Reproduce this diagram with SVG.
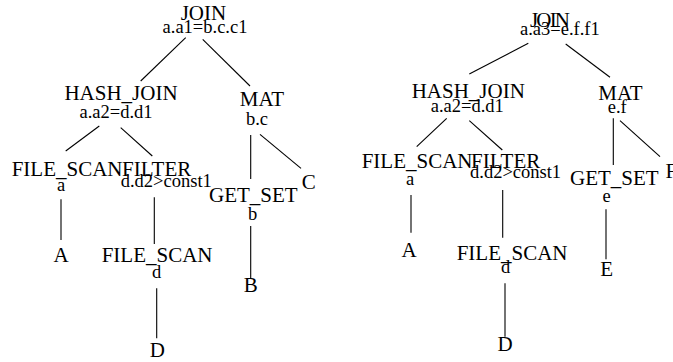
<svg xmlns="http://www.w3.org/2000/svg" width="673" height="362" viewBox="0 0 673 362">
<style>
text{font-family:"Liberation Serif","Times New Roman",serif;fill:#000}
.m{font-size:21px}
.s{font-size:18.5px}
.c{text-anchor:middle}
#edges line{stroke:#000;stroke-width:1.1}
</style>
<rect width="673" height="362" fill="#fff"/>
<g id="edges">
<line x1="185.7" y1="37.7" x2="140.7" y2="81"/>
<line x1="202.7" y1="39.3" x2="250" y2="86"/>
<line x1="99.3" y1="126" x2="65.7" y2="151"/>
<line x1="120.7" y1="127.7" x2="152.3" y2="156"/>
<line x1="250.7" y1="135" x2="250.7" y2="179"/>
<line x1="260" y1="134.3" x2="301" y2="168.3"/>
<line x1="61" y1="199.3" x2="61" y2="240"/>
<line x1="154.3" y1="197.3" x2="154.3" y2="244"/>
<line x1="156.7" y1="288.3" x2="156.7" y2="338.3"/>
<line x1="250.7" y1="226" x2="250.7" y2="278.3"/>
<line x1="528.3" y1="43.3" x2="469.3" y2="74"/>
<line x1="565.7" y1="44" x2="610" y2="77.3"/>
<line x1="446.7" y1="118.3" x2="416.7" y2="146.7"/>
<line x1="469.3" y1="120.7" x2="502.3" y2="150"/>
<line x1="613.3" y1="118.3" x2="613.3" y2="165"/>
<line x1="620" y1="120.7" x2="660" y2="156.7"/>
<line x1="411" y1="195" x2="411" y2="232.7"/>
<line x1="502.7" y1="190" x2="502.7" y2="237.7"/>
<line x1="505" y1="283.3" x2="505" y2="336.7"/>
<line x1="606" y1="209.3" x2="606" y2="259.3"/>
</g>
<g id="l-join"><text class="m c" x="203.4" y="20">JOIN</text><text class="s c" x="205" y="32.5">a.a1=b.c.c1</text></g>
<g id="l-hashjoin"><text class="m c" x="121" y="99.5">HASH_JOIN</text><text class="s c" x="116" y="118">a.a2=d.d1</text></g>
<g id="l-mat"><text class="m c" x="262" y="106">MAT</text><text class="s c" x="257" y="125">b.c</text></g>
<g id="l-filescan-a"><text class="m" x="11.7" y="176">FILE_SCAN</text><text class="s c" x="61" y="191">a</text></g>
<g id="l-filter"><text class="m" x="122" y="176">FILTER</text><text class="s" x="120.7" y="187">d.d2&gt;const1</text></g>
<g id="l-getset"><text class="m" x="209" y="201.5">GET_SET</text><text class="s c" x="252.5" y="220">b</text></g>
<g id="l-C"><text class="m" x="301.7" y="189">C</text></g>
<g id="l-A"><text class="m c" x="61" y="261.7">A</text></g>
<g id="l-filescan-d"><text class="m" x="101.7" y="261.7">FILE_SCAN</text><text class="s c" x="156.7" y="278.3">d</text></g>
<g id="l-D"><text class="m c" x="157.3" y="357.3">D</text></g>
<g id="l-B"><text class="m c" x="250.7" y="292.3">B</text></g>
<g id="r-join"><text class="m" x="530" y="27.3" textLength="40">JOIN</text><text class="s" x="520" y="35">a.a3=e.f.f1</text></g>
<g id="r-hashjoin"><text class="m" x="411.7" y="98.3">HASH_JOIN</text><text class="s" x="430.7" y="111.7">a.a2=d.d1</text></g>
<g id="r-mat"><text class="m" x="598.3" y="100">MAT</text><text class="s" x="607.7" y="112.7">e.f</text></g>
<g id="r-filescan-a"><text class="m" x="361.7" y="168.3">FILE_SCAN</text><text class="s c" x="410" y="185">a</text></g>
<g id="r-filter"><text class="m" x="471" y="168.3">FILTER</text><text class="s" x="470" y="177.5">d.d2&gt;const1</text></g>
<g id="r-getset"><text class="m" x="570" y="185">GET_SET</text><text class="s c" x="606.7" y="201.7">e</text></g>
<g id="r-F"><text class="m" x="665.5" y="178">F</text></g>
<g id="r-A"><text class="m c" x="409" y="256.7">A</text></g>
<g id="r-filescan-d"><text class="m" x="456.7" y="260">FILE_SCAN</text><text class="s c" x="505.7" y="272.7">d</text></g>
<g id="r-D"><text class="m c" x="505" y="351">D</text></g>
<g id="r-E"><text class="m c" x="606.7" y="276">E</text></g>
</svg>
